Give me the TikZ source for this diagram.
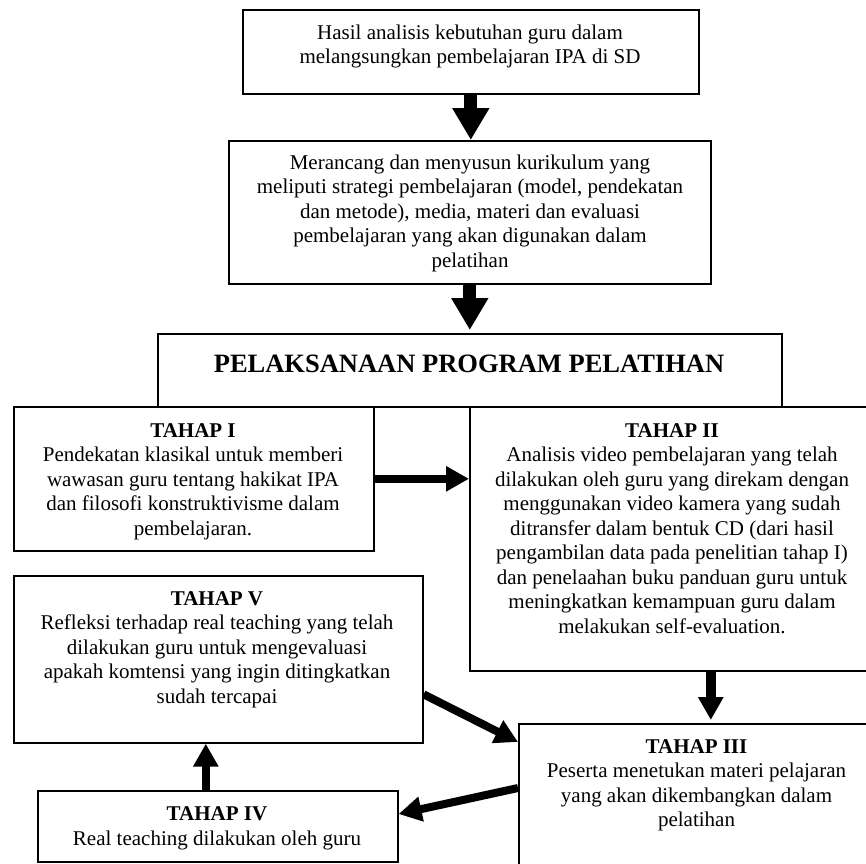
\documentclass[tikz,border=0pt]{standalone}
\usepackage{fontspec}
\setmainfont{Liberation Serif}
\usetikzlibrary{arrows.meta,calc}
\tikzset{
  box/.style={draw, line width=1.6pt, inner sep=0pt, anchor=north west, rectangle},
  txt/.style={font=\fontsize{21}{24.5}\selectfont, align=center, anchor=north, inner sep=0pt},
  bigarr/.style={line width=13pt, -{Triangle[length=32pt,width=35pt]}},
  smallarr/.style={line width=8pt, -{Triangle[length=23pt,width=24pt]}},
}
\begin{document}
\begin{tikzpicture}[x=1pt,y=-1pt]
\useasboundingbox (0,0) rectangle (866,863);
% boxes
\node[box, minimum width=456pt, minimum height=84pt] (b1) at (242,9) {};
\node[box, minimum width=482pt, minimum height=143pt] (b2) at (228,140) {};
\node[box, minimum width=624pt, minimum height=73pt] (b3) at (157,333) {};
\node[box, minimum width=360pt, minimum height=144pt] (t1) at (13,406) {};
\node[box, minimum width=406pt, minimum height=264pt] (t2) at (469,406) {};
\node[box, minimum width=409pt, minimum height=167pt] (t5) at (13,575) {};
\node[box, minimum width=360pt, minimum height=71pt] (t4) at (37,790) {};
\node[box, minimum width=357pt, minimum height=160pt] (t3) at (518,723) {};
% texts
\node[txt] (x1) at (470,24.7) {Hasil analisis kebutuhan guru dalam\\melangsungkan pembelajaran IPA di SD};
\node[txt] (x2) at (470,154.7) {Merancang dan menyusun kurikulum yang\\meliputi strategi pembelajaran (model, pendekatan\\dan metode), media, materi dan evaluasi\\pembelajaran yang akan digunakan dalam\\pelatihan};
\node[font=\fontsize{26.5}{30}\selectfont\bfseries, anchor=base, inner sep=0pt] (x3) at (469,372) {PELAKSANAAN PROGRAM PELATIHAN};
\node[txt] (y1) at (193,423.1) {\textbf{TAHAP I}\\Pendekatan klasikal untuk memberi\\wawasan guru tentang hakikat IPA\\dan filosofi konstruktivisme dalam\\pembelajaran.};
\node[txt] (y2) at (672,423.1) {\textbf{TAHAP II}\\Analisis video pembelajaran yang telah\\dilakukan oleh guru yang direkam dengan\\menggunakan video kamera yang sudah\\ditransfer dalam bentuk CD (dari hasil\\pengambilan data pada penelitian tahap I)\\dan penelaahan buku panduan guru untuk\\meningkatkan kemampuan guru dalam\\melakukan self-evaluation.};
\node[txt] (y5) at (217,591.1) {\textbf{TAHAP V}\\Refleksi terhadap real teaching yang telah\\dilakukan guru untuk mengevaluasi\\apakah komtensi yang ingin ditingkatkan\\sudah tercapai};
\node[txt] (y4) at (217,806.5) {\textbf{TAHAP IV}\\Real teaching dilakukan oleh guru};
\node[txt] (y3) at (696.5,739.1) {\textbf{TAHAP III}\\Peserta menetukan materi pelajaran\\yang akan dikembangkan dalam\\pelatihan};
% arrows
\draw[bigarr] (b1.south) -- (b1.south |- b2.north);
\draw[bigarr] (b2.south) -- ($(b2.south |- b3.north)+(0,-3)$);
\draw[smallarr] (t1.east) -- (t1.east -| t2.west);
\draw[smallarr, line width=10pt] ([xshift=38pt]t2.south) -- ([xshift=38pt,yshift=3pt]t2.south |- t3.north);
\draw[smallarr] ([yshift=-35pt]t5.east) -- ([yshift=-19pt]t3.north west);
\draw[smallarr] ([yshift=-65pt]t3.north west) -- ([yshift=-24pt]t4.north east);
\draw[smallarr] ([xshift=-12pt]t4.north) -- ([xshift=-12pt]t4.north |- t5.south);
\end{tikzpicture}
\end{document}
